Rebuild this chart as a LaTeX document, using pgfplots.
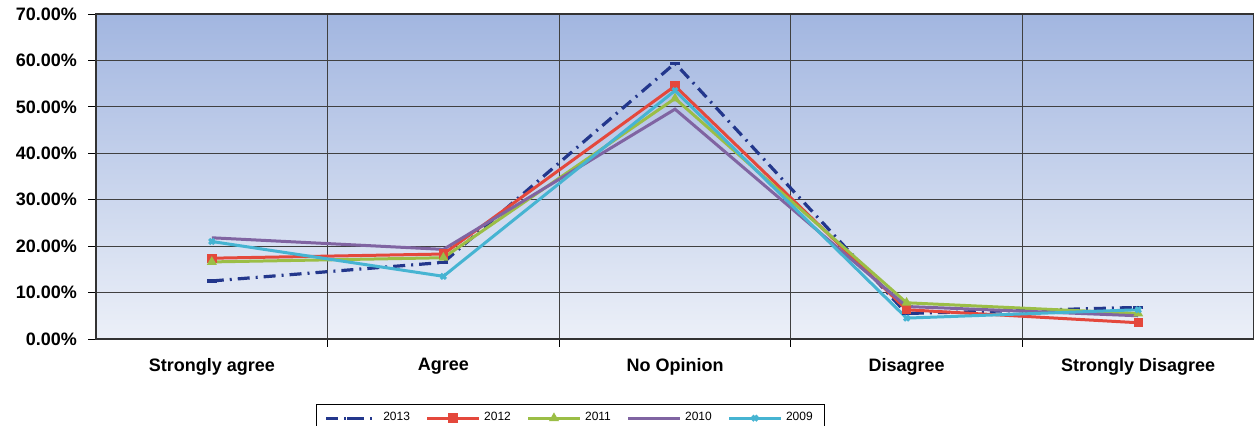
\documentclass[border=0pt]{standalone}
\usepackage{fontspec}
\setmainfont{Liberation Sans}
\usepackage{pgfplots}
\pgfplotsset{compat=1.18}
\definecolor{c13}{RGB}{35,55,140}
\definecolor{c12}{RGB}{228,72,60}
\definecolor{c11}{RGB}{155,190,70}
\definecolor{c10}{RGB}{128,100,162}
\definecolor{c09}{RGB}{70,180,210}
\definecolor{bgtop}{RGB}{162,182,224}
\definecolor{bgbot}{RGB}{236,240,248}
\begin{document}
\begin{tikzpicture}
\begin{axis}[
  name=ax,
  width=579pt, height=162.5pt, scale only axis,
  xmin=-0.5, xmax=4.5, ymin=0, ymax=70,
  xtick={0,1,2,3,4},
  xticklabels={Strongly agree, Agree, No Opinion, Disagree, Strongly Disagree},
  minor x tick num=1,
  xtick pos=bottom, ytick pos=left,
  major x tick style={draw=none},
  minor x tick style={black, thin},
  minor tick length=4pt,
  xminorgrids, ymajorgrids,
  grid style={black!75, line width=0.5pt},
  minor grid style={black!75, line width=0.5pt},
  ytick={0,10,...,70},
  tick align=outside, major tick length=4pt,
  ytick style={black, thin},
  /pgf/number format/assume math mode=true,
  yticklabel={\pgfmathprintnumber[fixed,fixed zerofill,precision=2]{\tick}\%},
  yticklabel style={font=\bfseries\fontsize{9}{10}\selectfont, xshift=-2pt},
  xticklabel style={font=\bfseries\fontsize{9}{10}\selectfont, yshift=-2pt},
  axis line style={black!80, line width=0.6pt},
  axis background/.style={top color=bgtop, bottom color=bgbot},
  legend columns=5,
  legend style={at={(0.41,-0.2)}, anchor=north, draw=black, line width=0.5pt,
    font=\fontsize{6}{7}\selectfont, inner xsep=4pt, inner ysep=2pt,
    /tikz/every even column/.append style={column sep=6pt}},
  legend image code/.code={\draw[mark repeat=2,mark phase=2,#1] plot coordinates {(0cm,0cm) (0.45cm,0cm) (0.9cm,0cm)};},
  clip=false,
]
\addplot[c13, line width=1.6pt, dash pattern=on 6pt off 3pt on 1pt off 3pt, mark=-, mark size=2.5pt, mark options={solid}]
  coordinates {(0,12.5) (1,16.5) (2,59.4) (3,5.5) (4,6.8)};
\addlegendentry{2013}
\addplot[c12, line width=1.5pt, mark=square*, mark size=1.6pt]
  coordinates {(0,17.4) (1,18.3) (2,54.5) (3,6.3) (4,3.5)};
\addlegendentry{2012}
\addplot[c11, line width=1.5pt, mark=triangle*, mark size=1.4pt]
  coordinates {(0,16.6) (1,17.5) (2,51.8) (3,7.8) (4,5.5)};
\addlegendentry{2011}
\addplot[c10, line width=1.5pt, mark=none]
  coordinates {(0,21.8) (1,19.3) (2,49.5) (3,7.0) (4,5.0)};
\addlegendentry{2010}
\addplot[c09, line width=1.5pt, mark=x, mark size=1.8pt]
  coordinates {(0,21.0) (1,13.5) (2,53.5) (3,4.5) (4,6.3)};
\addlegendentry{2009}
\end{axis}
\pgfresetboundingbox
\path ([shift={(-48pt,-43.5pt)}]ax.south west) rectangle ([shift={(0pt,7pt)}]ax.north east);
\end{tikzpicture}
\end{document}
